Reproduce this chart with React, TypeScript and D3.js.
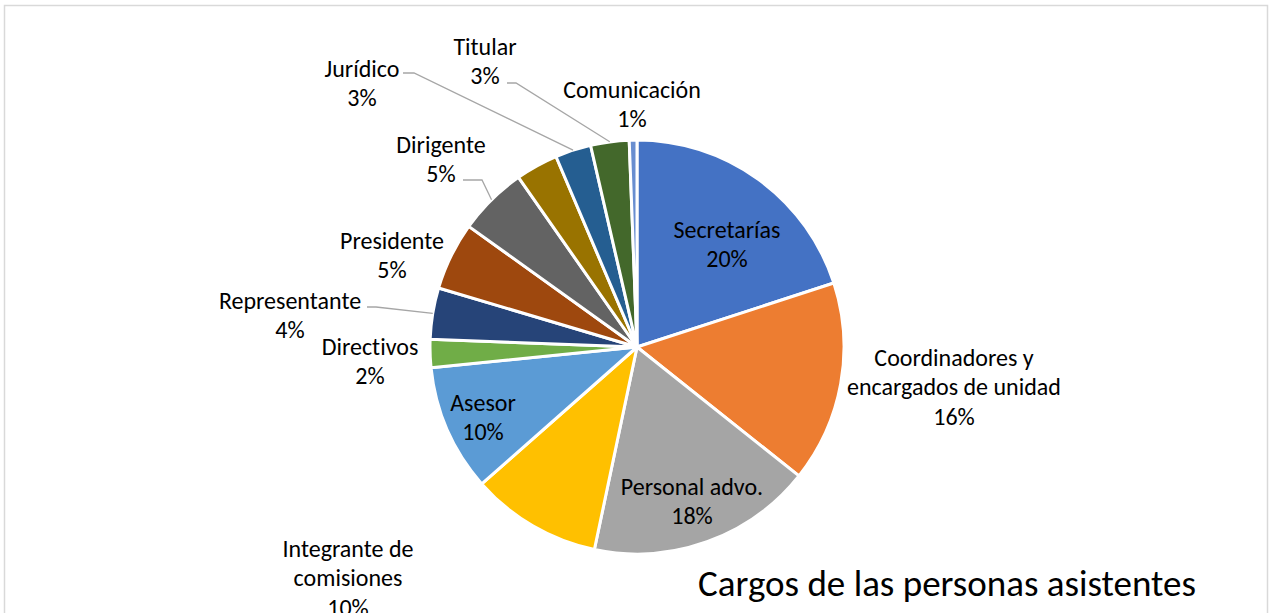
import React from "react";
import * as d3 from "d3";

const categories = [
  "Secretarías",
  "Coordinadores y encargados de unidad",
  "Personal advo.",
  "Integrante de comisiones",
  "Asesor",
  "Directivos",
  "Representante",
  "Presidente",
  "Dirigente",
  "Otros",
  "Jurídico",
  "Titular",
  "Comunicación",
];
const values = [20, 15.7, 17.6, 10.2, 9.9, 2.2, 4, 5.3, 5.4, 3.3, 2.8, 3.0, 0.6];
const labelLines = [
  ["Secretarías"],
  ["Coordinadores y", "encargados de unidad"],
  ["Personal advo."],
  ["Integrante de", "comisiones"],
  ["Asesor"],
  ["Directivos"],
  ["Representante"],
  ["Presidente"],
  ["Dirigente"],
  [],
  ["Jurídico"],
  ["Titular"],
  ["Comunicación"],
];
const title = "Cargos de las personas asistentes";

const colors = [
  "#4472C4", "#ED7D31", "#A5A5A5", "#FFC000", "#5B9BD5", "#70AD47",
  "#264478", "#9E480E", "#636363", "#997300", "#255E91", "#43682B", "#698ED0",
];

// label layout: center x, first line center y, optional leader start (x,y) and knee
type Lay = { x: number; y: number; lead?: [number, number][] };
const layout: Lay[] = [
  { x: 727, y: 229 },
  { x: 954, y: 357 },
  { x: 692, y: 486 },
  { x: 348, y: 548 },
  { x: 483, y: 402 },
  { x: 370, y: 346 },
  { x: 290, y: 300, lead: [[367, 307], [376, 307]] },
  { x: 392, y: 240 },
  { x: 441, y: 144, lead: [[463, 180], [482, 180]] },
  { x: 0, y: 0 },
  { x: 362, y: 68, lead: [[403, 73], [414, 73]] },
  { x: 485, y: 46, lead: [[507, 83], [516, 83]] },
  { x: 632, y: 89 },
];

const W = 1270;
const H = 613;
const cx = 637;
const cy = 347;
const R = 207;
const lineH = 29.5;
const FONT = "Carlito, Calibri, Lato, 'Open Sans', sans-serif";

export default function App() {
  const total = d3.sum(values);
  const pie = d3
    .pie<number>()
    .sort(null)
    .value((d) => d)
    .startAngle(0)
    .endAngle(2 * Math.PI);
  const arcs = pie(values);
  const arc = d3.arc<d3.PieArcDatum<number>>().innerRadius(0).outerRadius(R);

  return (
    <svg
      width={W}
      height={H}
      style={{ position: "fixed", left: 0, top: 0, background: "#fff", fontVariantLigatures: "none" }}
    >
      <rect x={0} y={0} width={W} height={H} fill="#fff" />
      <rect
        x={4.5}
        y={5.5}
        width={1263}
        height={700}
        fill="none"
        stroke="#d9d9d9"
        strokeWidth={1.5}
      />
      <g transform={`translate(${cx},${cy})`}>
        {arcs.map((a, i) => (
          <path
            key={i}
            d={arc(a) || ""}
            fill={colors[i]}
            stroke="#fff"
            strokeWidth={3}
            strokeLinejoin="round"
          />
        ))}
      </g>
      {arcs.map((a, i) => {
        const lay = layout[i];
        if (!lay.lead) return null;
        const mid = (a.startAngle + a.endAngle) / 2;
        const ex = cx + R * Math.sin(mid);
        const ey = cy - R * Math.cos(mid);
        const pts = [...lay.lead, [ex, ey]] as [number, number][];
        return (
          <path
            key={"l" + i}
            d={d3.line()(pts) || ""}
            fill="none"
            stroke="#a6a6a6"
            strokeWidth={1.3}
          />
        );
      })}
      {arcs.map((a, i) => {
        const lines = labelLines[i];
        if (!lines.length) return null;
        const lay = layout[i];
        const pct = Math.round((values[i] / total) * 100) + "%";
        const all = [...lines, pct];
        return (
          <text
            key={"t" + i}
            x={lay.x}
            textAnchor="middle"
            fontFamily={FONT}
            fontSize={24}
            fill="#000"
            style={{ fontVariantLigatures: "none" }}
          >
            {all.map((s, j) => (
              <tspan key={j} x={lay.x} y={lay.y + j * lineH} dominantBaseline="central">
                {s}
              </tspan>
            ))}
          </text>
        );
      })}
      <text
        x={947}
        y={583}
        textAnchor="middle"
        dominantBaseline="central"
        fontFamily={FONT}
        fontSize={37}
        fill="#000"
        style={{ fontVariantLigatures: "none" }}
      >
        {title}
      </text>
    </svg>
  );
}
